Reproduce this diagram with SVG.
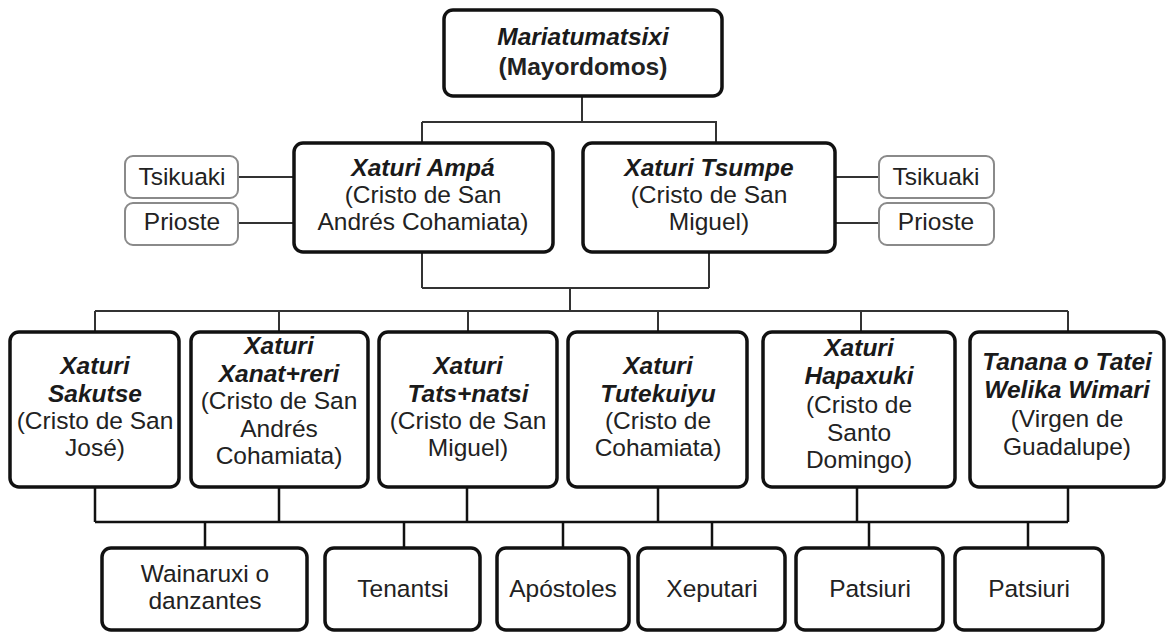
<svg xmlns="http://www.w3.org/2000/svg" width="1168" height="633" viewBox="0 0 1168 633">
<style>
.box{fill:#fff;stroke:#111;stroke-width:3.5}
.side{fill:#fff;stroke:#8a8a8a;stroke-width:2}
.c1{fill:none;stroke:#333;stroke-width:2}
.c2{fill:none;stroke:#111;stroke-width:2.5}
text{font-family:"Liberation Sans",Arial,sans-serif;font-size:24.5px;fill:#222;text-anchor:middle}
.bi{font-weight:bold;font-style:italic;fill:#1a1a1a}
.b{font-weight:bold}
</style>
<rect width="1168" height="633" fill="#fff"/>
<g id="connectors">
<path class="c1" d="M582,96V122M422,122H717M422,122V143M716,122V143"/>
<path class="c1" d="M238,177H294M238,223H294M835,177H879M835,223H879"/>
<path class="c1" d="M422,252V288M709,252V288M422,288H709M570,288V311"/>
<path class="c1" d="M95,311H1068M95,311V332M279,311V332M468,311V332M658,311V332M861,311V332M1068,311V332"/>
<path class="c2" d="M95,487V522M279,487V522M467,487V522M658,487V522M857,487V522M1068,487V522M95,522H1068"/>
<path class="c2" d="M205,522V548M404,522V548M563,522V548M712,522V548M869,522V548M1028,522V548"/>
</g>
<g id="mayordomos">
<rect class="box" x="444" y="10" width="278" height="86" rx="9"/>
<text class="bi" x="583" y="45" font-size="25">Mariatumatsixi</text>
<text class="b" x="583" y="75" font-size="25">(Mayordomos)</text>
</g>
<g id="ampa">
<rect class="box" x="294" y="143" width="259" height="109" rx="9"/>
<text class="bi" x="423" y="176">Xaturi Ampá</text>
<text x="423" y="203">(Cristo de San</text>
<text x="423" y="230">Andrés Cohamiata)</text>
</g>
<g id="tsumpe">
<rect class="box" x="583" y="143" width="252" height="109" rx="9"/>
<text class="bi" x="709" y="176">Xaturi Tsumpe</text>
<text x="709" y="203">(Cristo de San</text>
<text x="709" y="230">Miguel)</text>
</g>
<g id="tsikuaki-left">
<rect class="side" x="125" y="156" width="113" height="42" rx="8"/>
<text x="182" y="185">Tsikuaki</text>
</g>
<g id="prioste-left">
<rect class="side" x="125" y="203" width="113" height="42" rx="8"/>
<text x="182" y="230">Prioste</text>
</g>
<g id="tsikuaki-right">
<rect class="side" x="879" y="156" width="115" height="42" rx="8"/>
<text x="936" y="185">Tsikuaki</text>
</g>
<g id="prioste-right">
<rect class="side" x="879" y="203" width="115" height="42" rx="8"/>
<text x="936" y="230">Prioste</text>
</g>
<g id="sakutse">
<rect class="box" x="10" y="332" width="169" height="155" rx="9"/>
<text class="bi" x="95" y="374">Xaturi</text>
<text class="bi" x="95" y="402">Sakutse</text>
<text x="95" y="429">(Cristo de San</text>
<text x="95" y="456">José)</text>
</g>
<g id="xanatreri">
<rect class="box" x="191" y="332" width="177" height="155" rx="9"/>
<text class="bi" x="279" y="354">Xaturi</text>
<text class="bi" x="279" y="382">Xanat+reri</text>
<text x="279" y="409">(Cristo de San</text>
<text x="279" y="437">Andrés</text>
<text x="279" y="464">Cohamiata)</text>
</g>
<g id="tatsnatsi">
<rect class="box" x="379" y="332" width="178" height="155" rx="9"/>
<text class="bi" x="468" y="374">Xaturi</text>
<text class="bi" x="468" y="402">Tats+natsi</text>
<text x="468" y="429">(Cristo de San</text>
<text x="468" y="456">Miguel)</text>
</g>
<g id="tutekuiyu">
<rect class="box" x="568" y="332" width="179" height="155" rx="9"/>
<text class="bi" x="658" y="374">Xaturi</text>
<text class="bi" x="658" y="402">Tutekuiyu</text>
<text x="658" y="429">(Cristo de</text>
<text x="658" y="456">Cohamiata)</text>
</g>
<g id="hapaxuki">
<rect class="box" x="763" y="332" width="192" height="155" rx="9"/>
<text class="bi" x="859" y="356">Xaturi</text>
<text class="bi" x="859" y="384">Hapaxuki</text>
<text x="859" y="413">(Cristo de</text>
<text x="859" y="441">Santo</text>
<text x="859" y="468">Domingo)</text>
</g>
<g id="tanana">
<rect class="box" x="970" y="332" width="194" height="155" rx="9"/>
<text class="bi" x="1067" y="370">Tanana o Tatei</text>
<text class="bi" x="1067" y="398">Welika Wimari</text>
<text x="1067" y="427">(Virgen de</text>
<text x="1067" y="455">Guadalupe)</text>
</g>
<g id="wainaruxi">
<rect class="box" x="102" y="548" width="205" height="82" rx="9"/>
<text x="205" y="582">Wainaruxi o</text>
<text x="205" y="609">danzantes</text>
</g>
<g id="tenantsi">
<rect class="box" x="325" y="548" width="155" height="82" rx="9"/>
<text x="403" y="597">Tenantsi</text>
</g>
<g id="apostoles">
<rect class="box" x="497" y="548" width="132" height="82" rx="9"/>
<text x="563" y="597">Apóstoles</text>
</g>
<g id="xeputari">
<rect class="box" x="638" y="548" width="147" height="82" rx="9"/>
<text x="712" y="597">Xeputari</text>
</g>
<g id="patsiuri1">
<rect class="box" x="796" y="548" width="147" height="82" rx="9"/>
<text x="870" y="597">Patsiuri</text>
</g>
<g id="patsiuri2">
<rect class="box" x="955" y="548" width="148" height="82" rx="9"/>
<text x="1029" y="597">Patsiuri</text>
</g>
</svg>
